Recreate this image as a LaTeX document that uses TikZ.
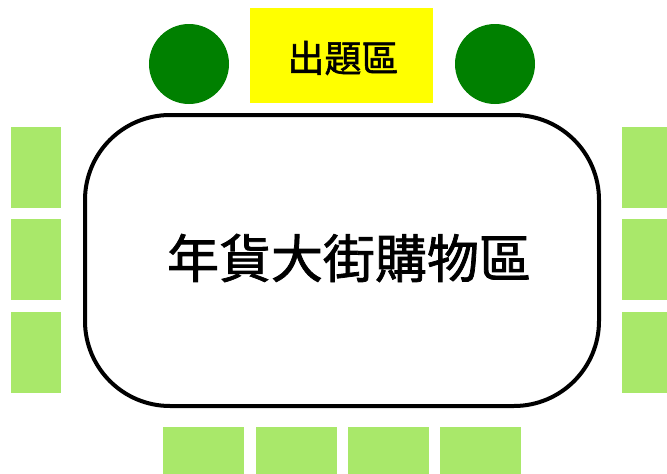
\documentclass[tikz,border=0pt]{standalone}
\usepackage{fontspec}
\newfontfamily\cjk[FakeBold=1.5]{Noto Sans CJK TC}
\definecolor{dgreen}{RGB}{0,128,0}
\definecolor{lgreen}{RGB}{169,232,106}
\definecolor{yel}{RGB}{255,255,0}
\begin{document}
\begin{tikzpicture}[x=1pt,y=-1pt,
  seat/.style={fill=lgreen,draw=none,inner sep=0pt,minimum width=50pt,minimum height=81pt},
  bseat/.style={fill=lgreen,draw=none,inner sep=0pt,minimum width=81pt,minimum height=81pt},
  judge/.style={circle,fill=dgreen,draw=none,minimum size=80pt,inner sep=0pt}]
\useasboundingbox (0,0) rectangle (667,474);
\clip (0,0) rectangle (667,474);
\node[fill=yel,inner sep=0pt,minimum width=183pt,minimum height=95pt] (q) at (341.5,55.5) {};
\node[font=\cjk\fontsize{37}{37}\selectfont] (qt) at (343,58) {出題區};
\node[judge] (c1) at (189,64) {};
\node[judge] (c2) at (495,64) {};
\node[draw=black,line width=4pt,rounded corners=85pt,minimum width=514pt,minimum height=291pt,inner sep=0pt] (main) at (342,260.5) {};
\node[font=\cjk\fontsize{52}{52}\selectfont] (mt) at (349,258) {年貨大街購物區};
\node[seat] (l1) at (36,167.5) {};
\node[seat] (l2) at (36,259.5) {};
\node[seat] (l3) at (36,352) {};
\node[seat] (r1) at (647,167.5) {};
\node[seat] (r2) at (647,259.5) {};
\node[seat] (r3) at (647,352) {};
\node[bseat] (b1) at (203.5,467.5) {};
\node[bseat] (b2) at (296,467.5) {};
\node[bseat] (b3) at (388,467.5) {};
\node[bseat] (b4) at (480,467.5) {};
\end{tikzpicture}
\end{document}
